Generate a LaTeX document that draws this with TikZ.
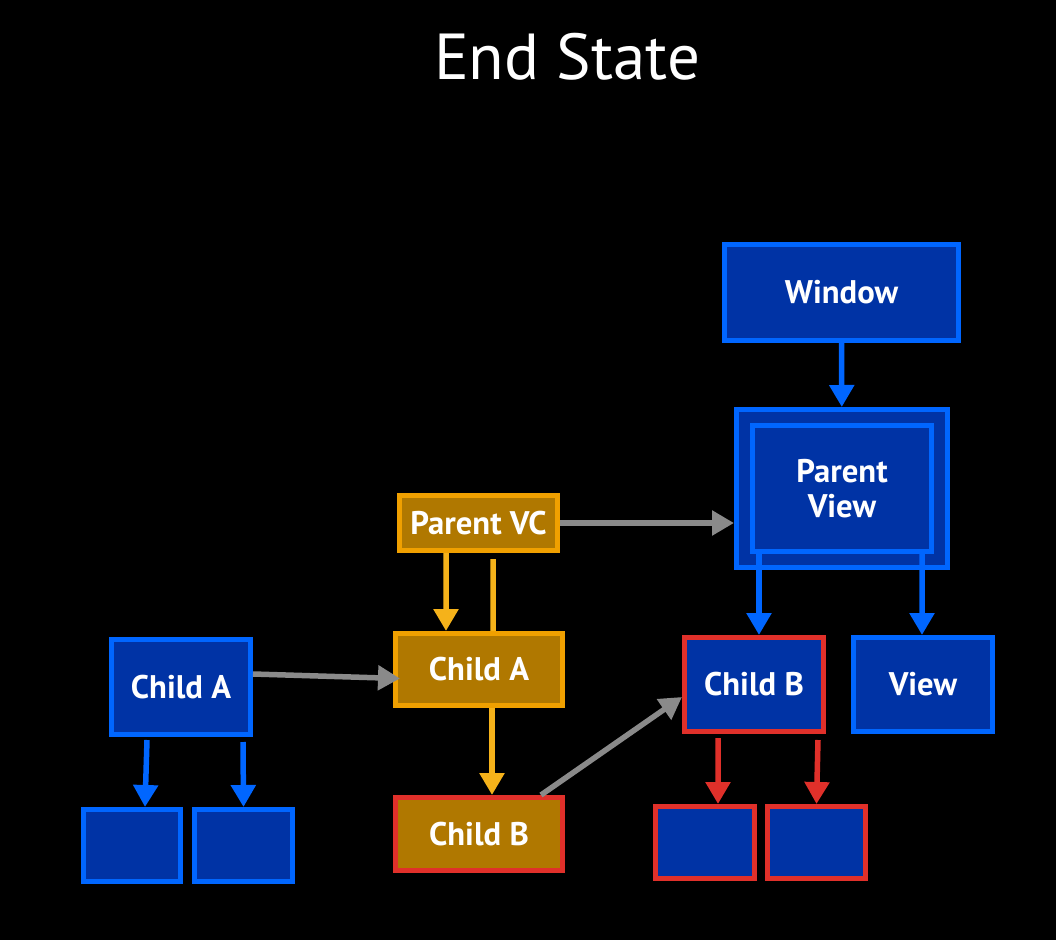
\documentclass[tikz,border=0pt]{standalone}
\usepackage{fontspec}
\setmainfont{PT Sans}
\usetikzlibrary{arrows.meta}

\definecolor{viewfill}{HTML}{0033A5}
\definecolor{viewline}{HTML}{0066FF}
\definecolor{vcfill}{HTML}{B07800}
\definecolor{vcline}{HTML}{F0A000}
\definecolor{redline}{HTML}{E0302A}
\definecolor{grayline}{HTML}{8A8A8A}
\definecolor{vcarrow}{HTML}{F5B21A}

\begin{document}
\begin{tikzpicture}[
  >={Triangle[width=0.24cm,length=0.22cm]},
  box/.style={
    draw=viewline,
    fill=viewfill,
    line width=0.05cm,
    inner sep=0pt,
    align=center,
    text=white,
    font=\bfseries\fontsize{9.3}{10}\selectfont
  },
  vc/.style={box, draw=vcline, fill=vcfill},
  moved/.style={box, draw=redline},
  movedvc/.style={vc, draw=redline},
  arr/.style={->, line width=0.055cm},
  bluearr/.style={arr, draw=viewline, fill=viewline},
  redarr/.style={arr, draw=redline, fill=redline},
  vcarr/.style={arr, draw=vcarrow, fill=vcarrow},
  grayarr/.style={arr, draw=grayline, fill=grayline},
]

\fill[black] (0,0) rectangle (10.56,9.40);
\useasboundingbox (0,0) rectangle (10.56,9.40);

\node[text=white, font=\fontsize{18.5}{18.5}\selectfont] (title) at (5.67,8.83) {End State};

% View hierarchy.
\node[box, minimum width=2.34cm, minimum height=0.96cm] (window) at (8.415,6.475) {Window};
\node[box, minimum width=2.11cm, minimum height=1.58cm] (pvout) at (8.42,4.515) {};
\node[box, minimum width=1.79cm, minimum height=1.26cm] (pvin) at (8.42,4.515) {Parent\\View};
\node[moved, minimum width=1.39cm, minimum height=0.94cm] (chbview) at (7.54,2.555) {Child B};
\node[box, minimum width=1.39cm, minimum height=0.94cm] (view) at (9.23,2.555) {View};
\node[moved, minimum width=0.99cm, minimum height=0.72cm] (chbleafa) at (7.05,0.975) {};
\node[moved, minimum width=0.98cm, minimum height=0.72cm] (chbleafb) at (8.165,0.975) {};

% Detached child view.
\node[box, minimum width=1.39cm, minimum height=0.95cm] (chaview) at (1.81,2.53) {Child A};
\node[box, minimum width=0.97cm, minimum height=0.72cm] (chaleafa) at (1.32,0.945) {};
\node[box, minimum width=0.98cm, minimum height=0.72cm] (chaleafb) at (2.435,0.945) {};

% View controllers.
\node[vc, minimum width=1.58cm, minimum height=0.55cm] (parentvc) at (4.785,4.17) {Parent VC};
\node[vc, minimum width=1.67cm, minimum height=0.72cm] (chavc) at (4.79,2.705) {Child A};
\node[movedvc, minimum width=1.67cm, minimum height=0.73cm] (chbvc) at (4.79,1.06) {Child B};

% View arrows.
\draw[bluearr] (window) -- (pvout);
\draw[bluearr] ([xshift=-0.83cm]pvin.south) -- ([xshift=0.05cm]chbview.north);
\draw[bluearr] ([xshift=0.80cm]pvin.south) -- ([xshift=-0.01cm]view.north);
\draw[bluearr] ([xshift=-0.34cm,yshift=-0.03cm]chaview.south) -- ([xshift=0.13cm]chaleafa.north);
\draw[bluearr] ([xshift=0.62cm,yshift=-0.05cm]chaview.south) -- ([xshift=0.0cm]chaleafb.north);
\draw[redarr] ([xshift=-0.36cm,yshift=-0.04cm]chbview.south) -- ([xshift=0.13cm]chbleafa.north);
\draw[redarr] ([xshift=0.64cm,yshift=-0.06cm]chbview.south) -- ([xshift=0.0cm]chbleafb.north);

% Controller arrows.
\draw[vcarr] ([xshift=-0.325cm]parentvc.south) -- ([xshift=-0.33cm]chavc.north);
\draw[vcarrow, line width=0.055cm] ([xshift=0.145cm,yshift=-0.06cm]parentvc.south) -- ([xshift=0.14cm]chavc.north);
\draw[vcarr] ([xshift=0.13cm]chavc.south) -- ([xshift=0.13cm]chbvc.north);

% Controller to view.
\draw[grayarr] (parentvc.east) -- (parentvc.east -| pvout.west);
\draw[grayarr] ([yshift=0.13cm]chaview.east) -- ([xshift=0.07cm,yshift=-0.09cm]chavc.west);
\draw[grayarr] ([xshift=0.62cm]chbvc.north) -- ([yshift=-0.125cm]chbview.west);

\end{tikzpicture}
\end{document}
